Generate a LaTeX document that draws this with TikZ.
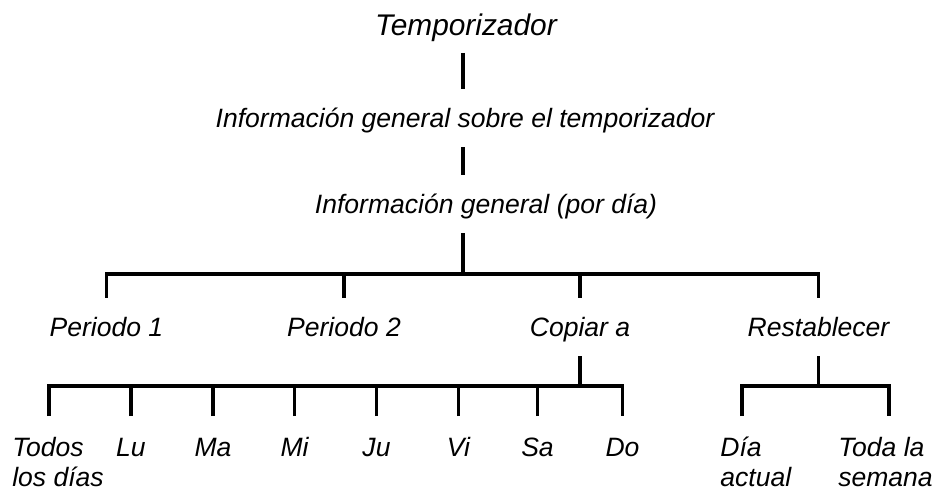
\documentclass[tikz,border=0pt]{standalone}
\usepackage{fontspec}
\setmainfont{Liberation Sans}

\begin{document}
\begin{tikzpicture}[
    lbl/.style={font=\itshape\fontsize{15.1}{17.07}\selectfont, inner xsep=0pt, inner ysep=0.3cm,
                text height=0.46cm, text depth=0.1cm, anchor=base},
    ttl/.style={lbl, font=\itshape\fontsize{17}{20}\selectfont, text depth=0.05cm},
    day/.style={font=\itshape\fontsize{15.1}{17.07}\selectfont, inner xsep=0pt, inner ysep=0.42cm, align=left},
    link/.style={line width=2pt}]
  \useasboundingbox (0,0) rectangle (18.74,9.8);
  \coordinate (trunk) at (9.26,0);
  \coordinate (lvl2) at (0,4.32);
  \coordinate (lvl3) at (0,2.08);
  % upper levels
  \node[ttl] (tempo) at (9.32,9.1) {Temporizador};
  \node[lbl] (sobre) at (9.3,7.26) {Información general sobre el temporizador};
  \node[lbl] (pordia) at (9.72,5.54) {Información general (por día)};
  \draw[link] (tempo.south -| trunk) -- (sobre.north -| trunk);
  \draw[link] (sobre.south -| trunk) -- (pordia.north -| trunk);
  % second level
  \node[lbl] (per1) at (2.13,3.08) {Periodo 1};
  \node[lbl] (per2) at (6.88,3.08) {Periodo 2};
  \node[lbl] (copiar) at (11.6,3.08) {Copiar a};
  \node[lbl] (rest) at (16.37,3.08) {Restablecer};
  \draw[link] (pordia.south -| trunk) -- (trunk |- lvl2);
  \draw[link] (per1.north) -- (per1.north |- lvl2) -- (rest.north |- lvl2) -- (rest.north);
  \foreach \n in {per2, copiar}
    \draw[link] (\n.north) -- (\n.north |- lvl2);
  % days
  \coordinate (c0) at (0.98,1.48);
  \node[day, anchor=north west] (todos) at (0.24,1.48) {Todos\\los días};
  \foreach \x/\d [count=\i] in {2.62/Lu, 4.26/Ma, 5.89/Mi, 7.53/Ju, 9.17/Vi, 10.75/Sa, 12.45/Do}
    \node[day, anchor=north, text height=0.38cm] (d\i) at (\x,1.48) {\d};
  \draw[link] (copiar.south) -- (copiar.south |- lvl3);
  \draw[link] (c0) -- (c0 |- lvl3) -- (d7.north |- lvl3) -- (d7.north);
  \foreach \i in {1,...,6}
    \draw[link] (d\i.north) -- (d\i.north |- lvl3);
  % reset
  \coordinate (c8) at (14.84,1.48);
  \coordinate (c9) at (17.78,1.48);
  \node[day, anchor=north west] (actual) at (14.4,1.48) {Día\\actual};
  \node[day, anchor=north west] (semana) at (16.76,1.48) {Toda la\\semana};
  \draw[link] (rest.south) -- (rest.south |- lvl3);
  \draw[link] (c8) -- (c8 |- lvl3) -- (c9 |- lvl3) -- (c9);
\end{tikzpicture}
\end{document}
